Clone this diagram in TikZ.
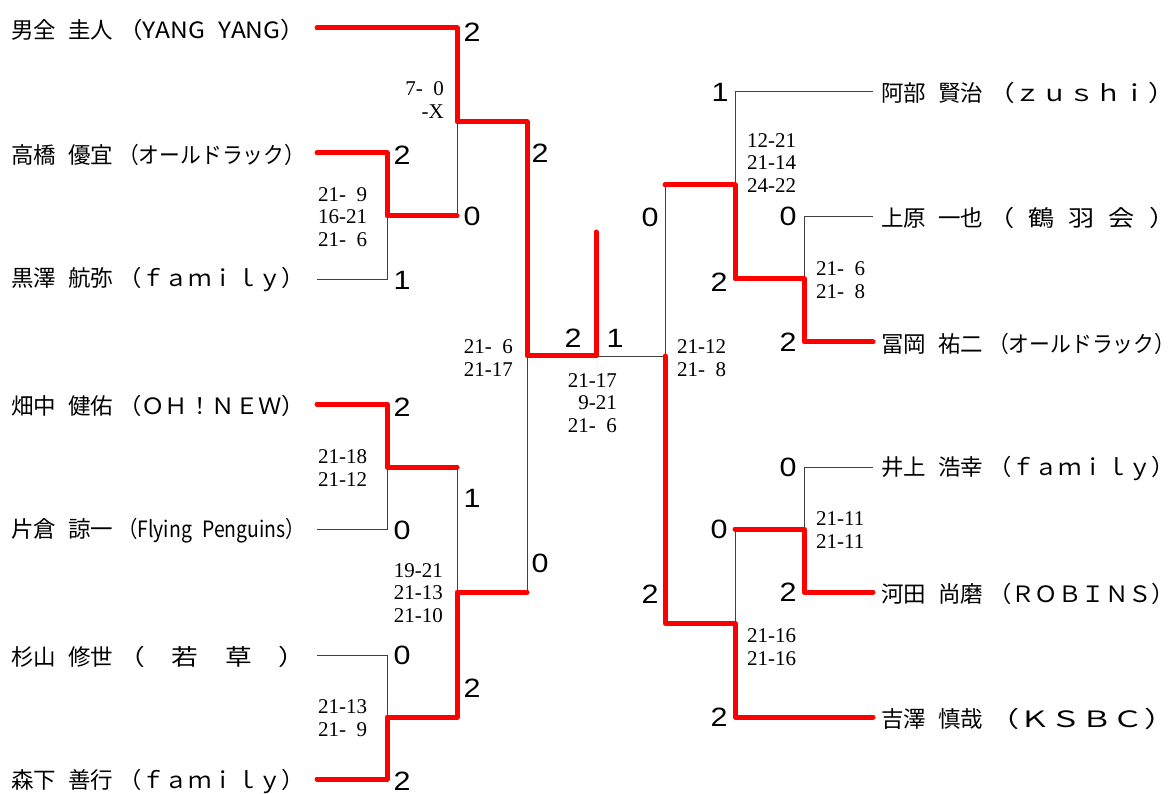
\documentclass[tikz,border=0pt]{standalone}
\usepackage{graphicx}
\usepackage{fontspec}
\setmainfont{Liberation Serif}
\newfontfamily\jpfont[WordSpace=2.4]{Noto Sans CJK JP}
\newfontfamily\digitfont[FakeStretch=1.15]{Liberation Sans}
\newfontfamily\scorefont[WordSpace=2]{Liberation Serif}
\newcommand{\pname}[2]{\makebox[107pt][l]{#1}\resizebox{187pt}{\height}{#2}}
\tikzset{
	lose/.style={black!75,line width=0.9pt},
	win/.style={red,line width=5pt,line cap=round,line join=round},
	player/.style={anchor=west,inner sep=0pt,font=\jpfont\fontsize{22.5}{26}\selectfont},
	pts/.style={inner sep=0pt,font=\digitfont\fontsize{26.5}{26}\selectfont},
	scl/.style={inner sep=0pt,anchor=west,align=left,font=\scorefont\fontsize{21}{22.5}\selectfont},
	scr/.style={inner sep=0pt,anchor=east,align=right,font=\scorefont\fontsize{21}{22.5}\selectfont},
}
\begin{document}
\begin{tikzpicture}[x=1pt,y=-1pt]
	\useasboundingbox (0,0) rectangle (1173,794);
	%選手
	\node[player] (p1) at (11,30) {\pname{男全 圭人}{（YANG YANG）}};
	\node[player] (p2) at (11,155) {\pname{高橋 優宜}{（オールドラック）}};
	\node[player] (p3) at (11,280) {\pname{黒澤 航弥}{（ｆａｍｉｌｙ）}};
	\node[player] (p4) at (11,406) {\pname{畑中 健佑}{（ＯＨ！ＮＥＷ）}};
	\node[player] (p5) at (11,531) {\pname{片倉 諒一}{（Flying Penguins）}};
	\node[player] (p6) at (11,657) {\pname{杉山 修世}{（　若　草　）}};
	\node[player] (p7) at (11,781) {\pname{森下 善行}{（ｆａｍｉｌｙ）}};
	\node[player] (q1) at (881,93) {\pname{阿部 賢治}{（ｚｕｓｈｉ）}};
	\node[player] (q2) at (881,218) {\pname{上原 一也}{（ 鶴 羽 会 ）}};
	\node[player] (q3) at (881,344) {\pname{冨岡 祐二}{（オールドラック）}};
	\node[player] (q4) at (881,469) {\pname{井上 浩幸}{（ｆａｍｉｌｙ）}};
	\node[player] (q5) at (881,594) {\pname{河田 尚磨}{（ＲＯＢＩＮＳ）}};
	\node[player] (q6) at (881,719) {\pname{吉澤 慎哉}{（ＫＳＢＣ）}};
	
	\coordinate (L1) at (317,28);
	\coordinate (L2) at (317,153);
	\coordinate (L3) at (317,279);
	\coordinate (L4) at (317,404);
	\coordinate (L5) at (317,529);
	\coordinate (L6) at (317,655);
	\coordinate (L7) at (317,779);
	\coordinate (R1) at (873,91);
	\coordinate (R2) at (873,216);
	\coordinate (R3) at (873,342);
	\coordinate (R4) at (873,467);
	\coordinate (R5) at (873,592);
	\coordinate (R6) at (873,717);
	%試合
	\coordinate (mA) at (387,216);
	\coordinate (mB) at (387,467);
	\coordinate (mC) at (387,717);
	\coordinate (mD) at (457,122);
	\coordinate (mE) at (457,592);
	\coordinate (mF) at (527,356);
	\coordinate (mG) at (596,356);
	\coordinate (champ) at (596,232);
	\coordinate (mH) at (804,279);
	\coordinate (mI) at (804,529);
	\coordinate (mJ) at (735,185);
	\coordinate (mK) at (735,623);
	\coordinate (mL) at (665,356);
	
	\draw[lose] (L3) -| (mA);
	\draw[lose] (mA -| mD) -- (mD);
	\draw[lose] (L5) -| (mB);
	\draw[lose] (mB -| mE) -- (mE);
	\draw[lose] (L6) -| (mC);
	\draw[lose] (mE -| mF) -- (mF);
	\draw[lose] (mG) -- (mL);
	\draw[lose] (R1) -| (mJ);
	\draw[lose] (R2) -| (mH);
	\draw[lose] (mJ -| mL) -- (mL);
	\draw[lose] (R4) -| (mI);
	\draw[lose] (mI -| mK) -- (mK);
	%勝ち上がり
	\draw[win] (L1) -| (mD) -| (mF) -- (mG) -- (champ);
	\draw[win] (L2) -| (mA) -- (mA -| mD);
	\draw[win] (L4) -| (mB) -- (mB -| mE);
	\draw[win] (L7) -| (mC) -| (mE) -- (mE -| mF);
	\draw[win] (R3) -| (mH) -| (mJ) -- (mJ -| mL);
	\draw[win] (R5) -| (mI) -- (mI -| mK);
	\draw[win] (R6) -| (mK) -| (mL);
	
	%スコア
	\node[scl] (sA) at (318,217) {21- 9\\16-21\\21- 6};
	\node[scl] (sB) at (318,468) {21-18\\21-12};
	\node[scl] (sC) at (318,718) {21-13\\21- 9};
	\node[scr] (sD) at (444,100) {7- 0\\-X};
	\node[scr] (sE) at (443,593) {19-21\\21-13\\21-10};
	\node[scr] (sF) at (513,358) {21- 6\\21-17};
	\node[scr] (sG) at (617,403) {21-17\\9-21\\21- 6};
	\node[scl] (sL) at (677,358) {21-12\\21- 8};
	\node[scl] (sJ) at (747,163) {12-21\\21-14\\24-22};
	\node[scl] (sH) at (816,280) {21- 6\\21- 8};
	\node[scl] (sI) at (816,530) {21-11\\21-11};
	\node[scl] (sK) at (747,647) {21-16\\21-16};
	
	%得点
	\node[pts] (d1) at (472,32) {2};
	\node[pts] (d2) at (402,155) {2};
	\node[pts] (d3) at (472,216) {0};
	\node[pts] (d4) at (402,280) {1};
	\node[pts] (d5) at (540,153) {2};
	\node[pts] (d6) at (402,407) {2};
	\node[pts] (d7) at (472,498) {1};
	\node[pts] (d8) at (402,530) {0};
	\node[pts] (d9) at (540,563) {0};
	\node[pts] (d10) at (402,655) {0};
	\node[pts] (d11) at (472,688) {2};
	\node[pts] (d12) at (402,781) {2};
	\node[pts] (d13) at (573,338) {2};
	\node[pts] (d14) at (615,338) {1};
	\node[pts] (e1) at (720,92) {1};
	\node[pts] (e2) at (788,216) {0};
	\node[pts] (e3) at (719,282) {2};
	\node[pts] (e4) at (788,342) {2};
	\node[pts] (e5) at (650,217) {0};
	\node[pts] (e6) at (788,467) {0};
	\node[pts] (e7) at (719,529) {0};
	\node[pts] (e8) at (788,592) {2};
	\node[pts] (e9) at (650,594) {2};
	\node[pts] (e10) at (719,717) {2};
\end{tikzpicture}
\end{document}
